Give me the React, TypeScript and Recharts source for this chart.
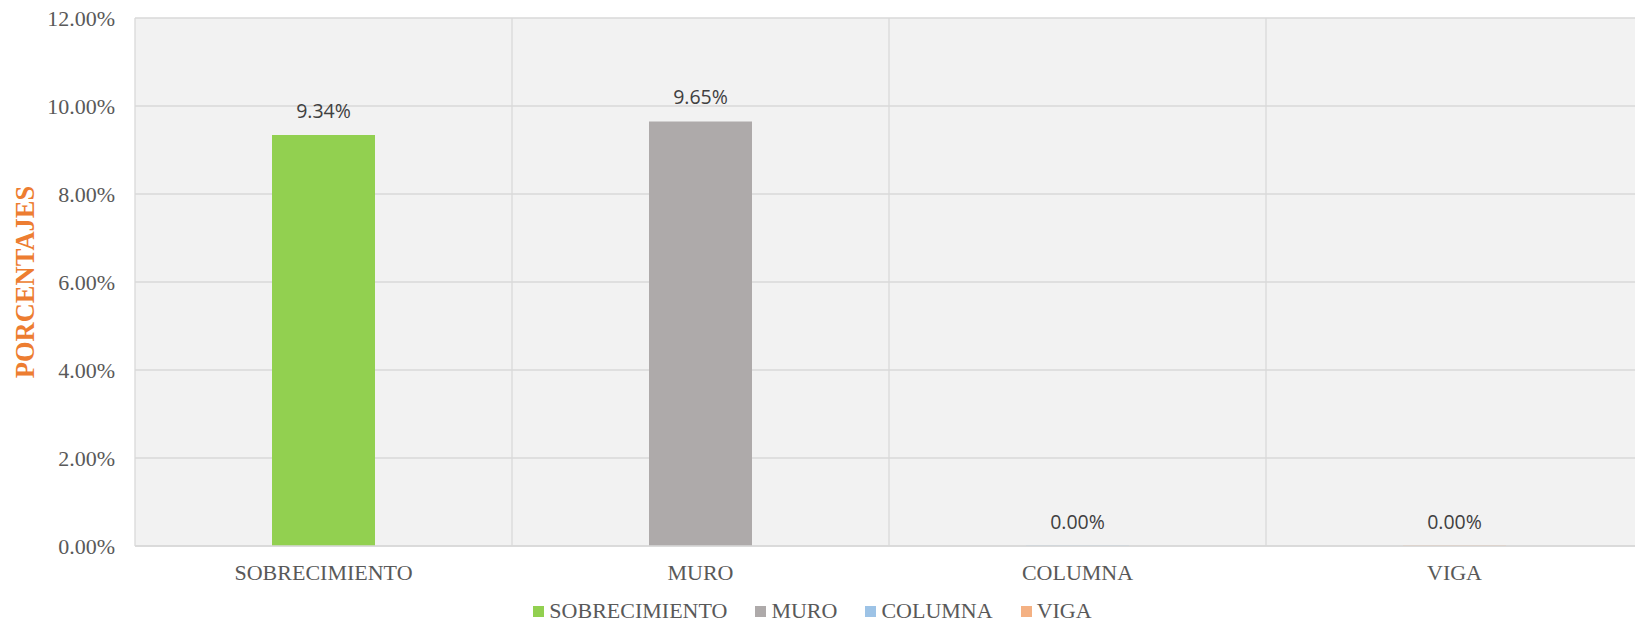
import React from 'react';
import { BarChart, Bar, XAxis, YAxis, CartesianGrid, Cell, LabelList, Legend } from 'recharts';

const categories = ['SOBRECIMIENTO', 'MURO', 'COLUMNA', 'VIGA'];
const percentages = [9.34, 9.65, 0, 0];
const barColors = ['#92D050', '#AEAAAA', '#9DC3E6', '#F4B183'];
const yTicks = [0, 2, 4, 6, 8, 10, 12];

const data = categories.map((name, i) => ({ name, value: percentages[i] }));

const SERIF = '"Liberation Serif", "Times New Roman", serif';
const GRID = '#D9D9D9';

const LegendBox = () => (
    <div
        style={{
            display: 'flex',
            justifyContent: 'center',
            alignItems: 'center',
            gap: 28,
            fontFamily: SERIF,
            fontSize: 22,
            color: '#595959',
            lineHeight: '24px',
        }}
    >
        {categories.map((c, i) => (
            <span key={c} style={{ display: 'flex', alignItems: 'center' }}>
                <span style={{ display: 'inline-block', width: 11, height: 11, background: barColors[i], marginRight: 5 }} />
                {c}
            </span>
        ))}
    </div>
);

export default function App() {
    return (
        <div style={{ position: 'absolute', top: 0, left: 0, width: 1635, height: 624, overflow: 'hidden', background: '#fff' }}>
            <BarChart
                width={1660}
                height={624}
                data={data}
                margin={{ top: 18, right: 17, left: 0, bottom: 48 }}
            >
                <CartesianGrid
                    fill="#F2F2F2"
                    stroke={GRID}
                    strokeWidth={1.3}
                    verticalCoordinatesGenerator={({ offset }: any) =>
                        categories.concat(['']).map((_, i) => offset.left + (i * offset.width) / categories.length)
                    }
                />
                <XAxis
                    dataKey="name"
                    tickLine={false}
                    axisLine={{ stroke: GRID, strokeWidth: 1.3 }}
                    tickMargin={12}
                    height={30}
                    tick={{ fill: '#595959', fontSize: 22, fontFamily: SERIF }}
                />
                <YAxis
                    width={135}
                    domain={[0, 12]}
                    ticks={yTicks}
                    tickLine={false}
                    axisLine={false}
                    tickMargin={14}
                    tickFormatter={(v: number) => `${v.toFixed(2)}%`}
                    tick={{ fill: '#595959', fontSize: 22, fontFamily: SERIF }}
                    label={{
                        value: 'PORCENTAJES',
                        angle: -90,
                        position: 'insideLeft',
                        offset: 25,
                        style: { textAnchor: 'middle', fill: '#ED7D31', fontSize: 26.5, fontWeight: 'bold', fontFamily: SERIF },
                    }}
                />
                <Legend
                    verticalAlign="middle"
                    align="center"
                    content={() => <LegendBox />}
                    wrapperStyle={{ left: 0, top: 599, width: 1625 }}
                />
                <Bar dataKey="value" barSize={103} minPointSize={0.4} isAnimationActive={false}>
                    {data.map((d, i) => (
                        <Cell key={d.name} fill={barColors[i]} />
                    ))}
                    <LabelList
                        dataKey="value"
                        position="top"
                        offset={17}
                        formatter={(v: any) => `${Number(v).toFixed(2)}%`}
                        fill="#404040"
                        fontSize={19.5}
                        fontFamily='"Open Sans", sans-serif'
                    />
                </Bar>
            </BarChart>
        </div>
    );
}
